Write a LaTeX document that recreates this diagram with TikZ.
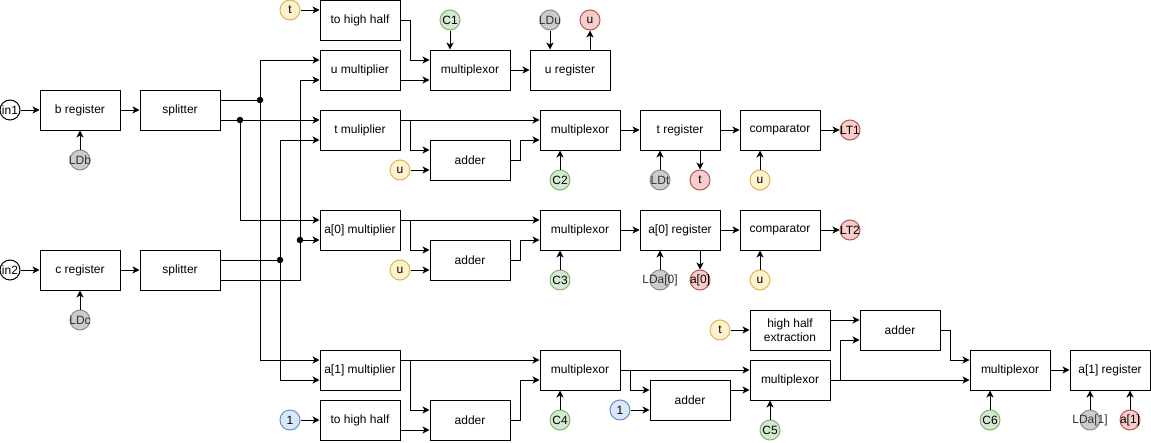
\documentclass[tikz,border=0pt]{standalone}
\usepackage{fontspec}
\setmainfont{Liberation Sans}
\usetikzlibrary{arrows.meta}

\definecolor{yelFill}{HTML}{FFF2CC}\definecolor{yelLine}{HTML}{D6B656}
\definecolor{grnFill}{HTML}{D5E8D4}\definecolor{grnLine}{HTML}{82B366}
\definecolor{redFill}{HTML}{F8CECC}\definecolor{redLine}{HTML}{B85450}
\definecolor{gryFill}{HTML}{CCCCCC}\definecolor{gryLine}{HTML}{8C8C8C}
\definecolor{gryText}{HTML}{333333}
\definecolor{bluFill}{HTML}{DAE8FC}\definecolor{bluLine}{HTML}{6C8EBF}

\newcommand\boxfont{\fontsize{12pt}{14pt}\selectfont}
% zero-width text so a long label does not grow its circle
\newcommand\portlabel[1]{\makebox[0pt]{#1}}

\begin{document}
\begin{tikzpicture}[x=1pt,y=-1pt,line width=1pt,
  box/.style={draw,minimum width=80pt,minimum height=40pt,inner sep=1pt,
              font=\boxfont,align=center},
  port/.style={circle,draw,minimum size=20pt,inner sep=0pt,font=\boxfont},
  inport/.style={port,fill=white,draw=black},
  ctl/.style={port,fill=grnFill,draw=grnLine},
  ld/.style={port,fill=gryFill,draw=gryLine,text=gryText},
  outp/.style={port,fill=redFill,draw=redLine},
  useu/.style={port,fill=yelFill,draw=yelLine},
  const/.style={port,fill=bluFill,draw=bluLine},
  junc/.style={circle,fill=black,inner sep=0pt,minimum size=6.5pt},
  wire/.style={draw=black,line width=1pt},
  arr/.style={wire,-{Stealth[length=7pt,width=7pt,inset=2pt]}}]

\useasboundingbox (0,0) rectangle (1151,442);

% ---- input registers and splitters
\node[inport] (in1) at (10,110) {\portlabel{in1}};
\node[box] (breg) at (80,110) {b register};
\node[ld] (LDb) at (80,160) {\portlabel{LDb}};
\node[box] (split1) at (180,110) {splitter};
\node[inport] (in2) at (10,270) {\portlabel{in2}};
\node[box] (creg) at (80,270) {c register};
\node[ld] (LDc) at (80,320) {\portlabel{LDc}};
\node[box] (split2) at (180,270) {splitter};

% ---- fan-out junctions
\node[junc] (j1) at (260,100) {};
\node[junc] (j2) at (240,120) {};
\node[junc] (j3) at (280,260) {};
\node[junc] (j4) at (300,240) {};

% ---- multipliers column
\node[useu] (tA) at (290,10) {\portlabel{t}};
\node[box] (thh1) at (360,20) {to high half};
\node[box] (umul) at (360,70) {u multiplier};
\node[box] (tmul) at (360,130) {t muliplier};
\node[box] (a0mul) at (360,230) {a[0] multiplier};
\node[box] (a1mul) at (360,370) {a[1] multiplier};
\node[const] (one1) at (290,420) {\portlabel{1}};
\node[box] (thh2) at (360,420) {to high half};

% ---- u path
\node[ctl] (C1) at (450,20) {\portlabel{C1}};
\node[box] (mux1) at (470,70) {multiplexor};
\node[ld] (LDu) at (550,20) {\portlabel{LDu}};
\node[outp] (uout) at (590,20) {\portlabel{u}};
\node[box] (ureg) at (570,70) {u register};

% ---- t path
\node[box] (add1) at (470,160) {adder};
\node[useu] (uin1) at (400,170) {\portlabel{u}};
\node[box] (mux2) at (580,130) {multiplexor};
\node[ctl] (C2) at (560,180) {\portlabel{C2}};
\node[box] (treg) at (680,130) {t register};
\node[ld] (LDt) at (660,180) {\portlabel{LDt}};
\node[outp] (tout) at (700,180) {\portlabel{t}};
\node[box] (cmp1) at (780,130) {comparator};
\node[useu] (uin2) at (760,180) {\portlabel{u}};
\node[outp] (LT1) at (850,130) {\portlabel{LT1}};

% ---- a[0] path
\node[box] (add2) at (470,260) {adder};
\node[useu] (uin3) at (400,270) {\portlabel{u}};
\node[box] (mux3) at (580,230) {multiplexor};
\node[ctl] (C3) at (560,280) {\portlabel{C3}};
\node[box] (a0reg) at (680,230) {a[0] register};
\node[ld] (LDa0) at (660,280) {\portlabel{LDa[0]}};
\node[outp] (a0out) at (700,280) {\portlabel{a[0]}};
\node[box] (cmp2) at (780,230) {comparator};
\node[useu] (uin4) at (760,280) {\portlabel{u}};
\node[outp] (LT2) at (850,230) {\portlabel{LT2}};

% ---- a[1] path
\node[box] (add3) at (470,420) {adder};
\node[box] (mux4) at (580,370) {multiplexor};
\node[ctl] (C4) at (560,420) {\portlabel{C4}};
\node[const] (one2) at (620,410) {\portlabel{1}};
\node[box] (add4) at (690,400) {adder};
\node[box] (mux5) at (790,380) {multiplexor};
\node[ctl] (C5) at (770,430) {\portlabel{C5}};
\node[useu] (tB) at (720,330) {\portlabel{t}};
\node[box] (hhx) at (790,330) {high half\\extraction};
\node[box] (add5) at (900,330) {adder};
\node[box] (mux6) at (1010,370) {multiplexor};
\node[ctl] (C6) at (990,420) {\portlabel{C6}};
\node[box] (a1reg) at (1110,370) {a[1] register};
\node[ld] (LDa1) at (1090,420) {\portlabel{LDa[1]}};
\node[outp] (a1out) at (1130,420) {\portlabel{a[1]}};

% ---- connectors: inputs
\draw[arr] (in1) -- (breg);
\draw[arr] (LDb) -- (breg);
\draw[arr] (breg) -- (split1);
\draw[arr] (in2) -- (creg);
\draw[arr] (LDc) -- (creg);
\draw[arr] (creg) -- (split2);

% ---- connectors: splitter fan-out
\draw[wire] ([yshift=10pt]split1.east) -- (j1.center);
\draw[arr] (j1.center) |- ([yshift=10pt]umul.west);
\draw[arr] (j1.center) |- ([yshift=10pt]a1mul.west);
\draw[wire] ([yshift=-10pt]split1.east) -- (j2.center);
\draw[arr] (j2.center) -- ([yshift=10pt]tmul.west);
\draw[arr] (j2.center) |- ([yshift=10pt]a0mul.west);
\draw[wire] ([yshift=10pt]split2.east) -- (j3.center);
\draw[arr] (j3.center) |- ([yshift=-10pt]tmul.west);
\draw[arr] (j3.center) |- ([yshift=-10pt]a1mul.west);
\draw[wire] ([yshift=-10pt]split2.east) -| (j4.center);
\draw[arr] (j4.center) -- ([yshift=-10pt]a0mul.west);
\draw[arr] (j4.center) |- ([yshift=-10pt]umul.west);

% ---- connectors: u path
\draw[arr] (tA) -- (tA -| thh1.west);
\draw[arr] (thh1.east) -- ++(10,0) |- ([yshift=10pt]mux1.west);
\draw[arr] ([yshift=-10pt]umul.east) -- ([yshift=-10pt]mux1.west);
\draw[arr] (C1) -- (C1 |- mux1.north);
\draw[arr] (mux1) -- (ureg);
\draw[arr] (LDu) -- (LDu |- ureg.north);
\draw[arr] (uout |- ureg.north) -- (uout);

% ---- connectors: t path
\draw[arr] ([yshift=10pt]tmul.east) -- ([yshift=10pt]mux2.west);
\draw[arr] ([yshift=10pt]tmul.east) -- ++(10,0) |- ([yshift=10pt]add1.west);
\draw[arr] (uin1) -- (uin1 -| add1.west);
\draw[arr] (add1.east) -- ++(10,0) |- ([yshift=-10pt]mux2.west);
\draw[arr] (C2) -- (C2 |- mux2.south);
\draw[arr] (mux2) -- (treg);
\draw[arr] (LDt) -- (LDt |- treg.south);
\draw[arr] (tout |- treg.south) -- (tout);
\draw[arr] (treg) -- (cmp1);
\draw[arr] (uin2) -- (uin2 |- cmp1.south);
\draw[arr] (cmp1) -- (LT1);

% ---- connectors: a[0] path
\draw[arr] ([yshift=10pt]a0mul.east) -- ([yshift=10pt]mux3.west);
\draw[arr] ([yshift=10pt]a0mul.east) -- ++(10,0) |- ([yshift=10pt]add2.west);
\draw[arr] (uin3) -- (uin3 -| add2.west);
\draw[arr] (add2.east) -- ++(10,0) |- ([yshift=-10pt]mux3.west);
\draw[arr] (C3) -- (C3 |- mux3.south);
\draw[arr] (mux3) -- (a0reg);
\draw[arr] (LDa0) -- (LDa0 |- a0reg.south);
\draw[arr] (a0out |- a0reg.south) -- (a0out);
\draw[arr] (a0reg) -- (cmp2);
\draw[arr] (uin4) -- (uin4 |- cmp2.south);
\draw[arr] (cmp2) -- (LT2);

% ---- connectors: a[1] path
\draw[arr] ([yshift=10pt]a1mul.east) -- ([yshift=10pt]mux4.west);
\draw[arr] ([yshift=10pt]a1mul.east) -- ++(10,0) |- ([yshift=10pt]add3.west);
\draw[arr] (one1) -- (thh2);
\draw[arr] ([yshift=-10pt]thh2.east) -- ([yshift=-10pt]add3.west);
\draw[arr] (add3.east) -- ++(10,0) |- ([yshift=-10pt]mux4.west);
\draw[arr] (C4) -- (C4 |- mux4.south);
\draw[arr] (mux4.east) -- ([yshift=10pt]mux5.west);
\draw[arr] (mux4.east) -- ++(10,0) |- ([yshift=10pt]add4.west);
\draw[arr] (one2) -- (one2 -| add4.west);
\draw[arr] ([yshift=10pt]add4.east) -- ([yshift=-10pt]mux5.west);
\draw[arr] (C5) -- (C5 |- mux5.south);
\draw[arr] (tB) -- (hhx);
\draw[arr] ([yshift=10pt]hhx.east) -- ([yshift=10pt]add5.west);
\draw[arr] (mux5.east) -- ([yshift=-10pt]mux6.west);
\draw[arr] (mux5.east) -- ++(10,0) |- ([yshift=-10pt]add5.west);
\draw[arr] (add5.east) -- ++(10,0) |- ([yshift=10pt]mux6.west);
\draw[arr] (C6) -- (C6 |- mux6.south);
\draw[arr] (mux6) -- (a1reg);
\draw[arr] (LDa1) -- (LDa1 |- a1reg.south);
\draw[arr] (a1out) -- (a1out |- a1reg.south);
\end{tikzpicture}
\end{document}
